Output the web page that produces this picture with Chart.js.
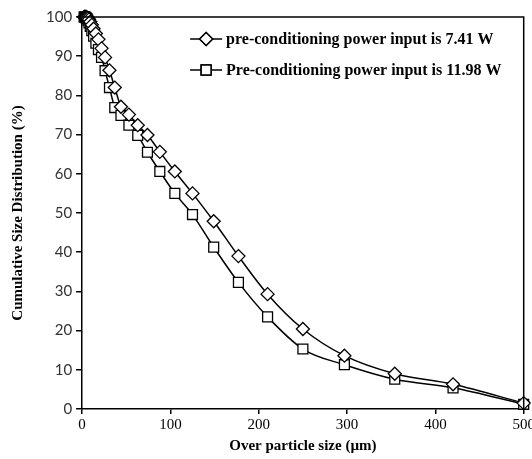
<!DOCTYPE html>
<html>
<head>
<meta charset="utf-8">
<script src="https://cdn.jsdelivr.net/npm/chart.js@4/dist/chart.umd.min.js"></script>
<style>
  body { margin: 0; background: #fff; }
  #wrap { width: 532px; height: 459px; }
</style>
</head>
<body>
<div id="wrap"><canvas id="psdChart" width="532" height="459"></canvas></div>
<script>
// particle sizes (um) and cumulative % for the two power inputs
const sizesUm = [2.3, 2.75, 3.3, 3.9, 4.6, 5.5, 6.5, 7.8, 9.25, 11, 13, 15.6, 18.5, 22, 26, 31, 37, 44, 53, 63, 74, 88, 105, 125, 149, 177, 210, 250, 297, 354, 420, 500];
const power741 = [100, 100, 100, 100, 100, 99.9, 99.7, 99.4, 98.8, 98.0, 97.0, 95.8, 94.3, 92.0, 89.7, 86.4, 82.0, 77.1, 75.1, 72.4, 69.9, 65.6, 60.6, 55.0, 47.9, 39.0, 29.3, 20.4, 13.6, 9.0, 6.3, 1.5];
const power1198 = [100, 100, 100, 99.9, 99.8, 99.6, 99.2, 98.5, 97.6, 96.5, 95.1, 93.3, 91.7, 89.7, 86.3, 82.0, 76.9, 74.9, 72.4, 69.8, 65.5, 60.6, 55.0, 49.6, 41.3, 32.3, 23.5, 15.3, 11.3, 7.6, 5.4, 1.2];
const seriesLabels = ['pre-conditioning power input is 7.41 W', 'Pre-conditioning power input is 11.98 W'];
const xTicks = [0, 100, 200, 300, 400, 500];
const yTicks = [0, 10, 20, 30, 40, 50, 60, 70, 80, 90, 100];

const serif = '"Liberation Serif", "Times New Roman", serif';

function toPoints(vals) {
    return sizesUm.map((s, i) => ({ x: s, y: vals[i] }));
}

// box around the plot + legend drawn inside the plot area
const framePlugin = {
    id: 'frame',
    afterDatasetsDraw(chart) {
        const ctx = chart.ctx;
        const a = chart.chartArea;
        ctx.save();
        ctx.strokeStyle = '#000';
        ctx.lineWidth = 1.5;
        ctx.beginPath();
        ctx.moveTo(a.left, a.top);
        ctx.lineTo(a.right, a.top);
        ctx.lineTo(a.right, a.bottom);
        ctx.stroke();

        // legend
        const x0 = a.left + 108;
        let y = a.top + 22;
        ctx.font = 'bold 16px ' + serif;
        ctx.textBaseline = 'middle';
        ctx.fillStyle = '#000';
        chart.data.datasets.forEach((ds, i) => {
            ctx.lineWidth = 1.5;
            ctx.strokeStyle = '#000';
            ctx.beginPath();
            ctx.moveTo(x0, y);
            ctx.lineTo(x0 + 32, y);
            ctx.stroke();
            Chart.helpers.drawPoint(ctx, {
                pointStyle: ds.pointStyle,
                radius: ds.pointRadius,
                borderWidth: 1.3
            }, x0 + 16, y);
            ctx.fillStyle = '#fff';
            ctx.fill();
            ctx.stroke();
            ctx.fillStyle = '#000';
            ctx.fillText(seriesLabels[i], x0 + 36, y + 1);
            y += 31;
        });
        ctx.restore();
    }
};

function makeChart() {
    const ctx = document.getElementById('psdChart').getContext('2d');
    new Chart(ctx, {
        type: 'line',
        data: {
            datasets: [{
                label: seriesLabels[0],
                data: toPoints(power741),
                borderColor: '#000',
                borderWidth: 1.5,
                pointStyle: 'rectRot',
                pointRadius: 6.5,
                pointBorderWidth: 1.3,
                pointBackgroundColor: '#fff',
                pointBorderColor: '#000',
                cubicInterpolationMode: 'monotone',
                clip: false
            }, {
                label: seriesLabels[1],
                data: toPoints(power1198),
                borderColor: '#000',
                borderWidth: 1.5,
                pointStyle: 'rect',
                pointRadius: 7,
                pointBorderWidth: 1.3,
                pointBackgroundColor: '#fff',
                pointBorderColor: '#000',
                cubicInterpolationMode: 'monotone',
                clip: false
            }]
        },
        options: {
            responsive: false,
            animation: false,
            layout: { padding: { top: 17, left: 5, right: 0, bottom: 0 } },
            plugins: {
                legend: { display: false },
                tooltip: { enabled: false }
            },
            scales: {
                x: {
                    type: 'linear',
                    min: 0,
                    max: 500,
                    afterBuildTicks: s => { s.ticks = xTicks.map(v => ({ value: v })); },
                    afterFit: s => { s.paddingRight = 6; },
                    grid: { drawOnChartArea: false, tickLength: 5, color: '#000', lineWidth: 1.5 },
                    border: { color: '#000', width: 1.5 },
                    ticks: { color: '#000', font: { family: serif, size: 15 }, padding: 2, maxRotation: 0 },
                    title: { display: true, text: 'Over particle size (µm)', color: '#000', font: { family: serif, size: 15, weight: 'bold' }, padding: { top: 1 } }
                },
                y: {
                    min: 0,
                    max: 100,
                    afterBuildTicks: s => { s.ticks = yTicks.map(v => ({ value: v })); },
                    grid: { drawOnChartArea: false, tickLength: 6, color: '#000', lineWidth: 1.5 },
                    border: { color: '#000', width: 1.5 },
                    ticks: { color: '#333', font: { family: 'Lato, "Open Sans", sans-serif', size: 15 }, padding: 4 },
                    title: { display: true, text: 'Cumulative Size Distribution (%)', color: '#000', font: { family: serif, size: 15, weight: 'bold' }, padding: { bottom: 15 } }
                }
            }
        },
        plugins: [framePlugin]
    });
}

window.onload = makeChart;
</script>
</body>
</html>
